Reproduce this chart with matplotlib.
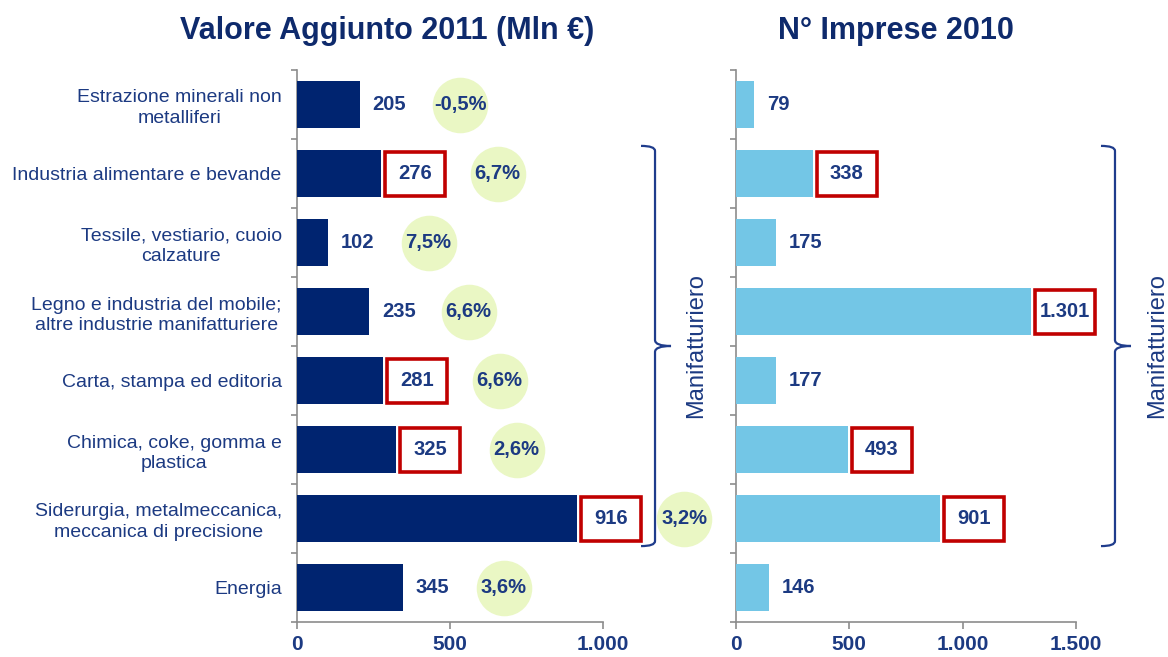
import matplotlib
matplotlib.use("Agg")
import matplotlib.pyplot as plt
from matplotlib.patches import Rectangle, PathPatch
from matplotlib.path import Path

plt.rcParams['font.family'] = ['Liberation Sans', 'DejaVu Sans']

# ---------------- data ----------------
categories = [
    "Estrazione minerali non\nmetalliferi",
    "Industria alimentare e bevande",
    "Tessile, vestiario, cuoio\ncalzature",
    "Legno e industria del mobile;\naltre industrie manifatturiere",
    "Carta, stampa ed editoria",
    "Chimica, coke, gomma e\nplastica",
    "Siderurgia, metalmeccanica,\nmeccanica di precisione",
    "Energia",
]
valore_aggiunto = [205, 276, 102, 235, 281, 325, 916, 345]
var_pct = [-0.5, 6.7, 7.5, 6.6, 6.6, 2.6, 3.2, 3.6]
imprese = [79, 338, 175, 1301, 177, 493, 901, 146]
boxed_va = [False, True, False, False, True, True, True, False]
boxed_imp = [False, True, False, True, False, True, True, False]
xticks_va = [0, 500, 1000]
xticks_imp = [0, 500, 1000, 1500]
title_va = "Valore Aggiunto 2011 (Mln €)"
title_imp = "N° Imprese 2010"
group_label = "Manifatturiero"
group_rows = (1, 6)

# layout (circle centre positions along the left x axis)
circle_x = [534, 656, 430, 561, 662, 718, 1266, 675]

NAVY = '#002470'
LIGHT = '#73C6E6'
TXT = '#1C3A82'
RED = '#C00000'
GREEN = '#EAF7C4'
GRAY = '#8C8C8C'

W, H = 1168, 657
fig = plt.figure(figsize=(W / 100, H / 100), dpi=100)

ax_h = 552 / H
ax_y = 1 - 622 / H
ax1 = fig.add_axes([297 / W, ax_y, 306 / W, ax_h])
ax2 = fig.add_axes([736 / W, ax_y, 340 / W, ax_h])


def fmt_it(v):
    return f"{v:,}".replace(",", ".")


def px2x(ax, px):
    x0, x1 = ax.get_xlim()
    wpx = ax.get_position().width * W
    return px * (x1 - x0) / wpx


def py2y(ax, px):
    y0, y1 = ax.get_ylim()
    hpx = ax.get_position().height * H
    return px * abs(y1 - y0) / hpx


n = len(categories)
rows = list(range(n))


def style_axis(ax, xmax, ticks, labels=True):
    ax.set_xlim(0, xmax)
    ax.set_ylim(n - 0.5, -0.5)
    for s in ('top', 'right'):
        ax.spines[s].set_visible(False)
    for s in ('left', 'bottom'):
        ax.spines[s].set_color(GRAY)
        ax.spines[s].set_linewidth(1.2)
    ax.set_xticks(ticks)
    ax.set_xticklabels([fmt_it(t) for t in ticks], fontsize=15,
                       fontweight='bold', color=TXT)
    ax.tick_params(axis='x', direction='out', length=5, width=1.2,
                   color=GRAY, pad=4)
    ax.set_yticks([r - 0.5 for r in range(n + 1)])
    ax.set_yticklabels([])
    ax.tick_params(axis='y', which='major', direction='out', length=4,
                   width=1.2, color=GRAY)
    if labels:
        ax.set_yticks(rows, minor=True)
        ax.set_yticklabels(categories, minor=True, fontsize=14, color=TXT)
        ax.tick_params(axis='y', which='minor', length=0, pad=11)
        for lab in ax.get_yticklabels(minor=True):
            lab.set_multialignment('center')
            lab.set_linespacing(1.3)


def value_labels(ax, vals, boxed):
    bw = px2x(ax, 60)
    bh = py2y(ax, 44)
    for r, v, b in zip(rows, vals, boxed):
        if b:
            x0 = v + px2x(ax, 4)
            ax.add_patch(Rectangle((x0, r - bh / 2), bw, bh, fc='white',
                                   ec=RED, lw=2.6, clip_on=False, zorder=4))
            ax.text(x0 + bw / 2, r, fmt_it(v), ha='center', va='center',
                    fontsize=14.5, fontweight='bold', color=TXT,
                    zorder=5, clip_on=False)
        else:
            ax.text(v + px2x(ax, 13), r, fmt_it(v), ha='left', va='center',
                    fontsize=14.5, fontweight='bold', color=TXT,
                    zorder=5, clip_on=False)


def brace(ax, xline, label_x):
    top = group_rows[0] - 0.4
    bot = group_rows[1] + 0.4
    mid = (top + bot) / 2
    hk = px2x(ax, 14)
    tp = px2x(ax, 16)
    dy = py2y(ax, 5)
    dm = py2y(ax, 6)
    verts = [
        (xline - hk, top), (xline, top), (xline, top + dy),
        (xline, mid - dm),
        (xline, mid), (xline + tp, mid),
        (xline, mid), (xline, mid + dm),
        (xline, bot - dy),
        (xline, bot), (xline - hk, bot),
    ]
    codes = [Path.MOVETO, Path.CURVE3, Path.CURVE3,
             Path.LINETO,
             Path.CURVE3, Path.CURVE3,
             Path.CURVE3, Path.CURVE3,
             Path.LINETO,
             Path.CURVE3, Path.CURVE3]
    ax.add_patch(PathPatch(Path(verts, codes), fc='none', ec='#1F3C8C',
                           lw=1.6, clip_on=False))
    ax.text(label_x, mid, group_label, rotation=90, ha='center',
            va='center', fontsize=17, color=TXT, clip_on=False)


# ---------------- left panel ----------------
style_axis(ax1, 1000, xticks_va, labels=True)
ax1.barh(rows, valore_aggiunto, height=0.68, color=NAVY, zorder=3)
value_labels(ax1, valore_aggiunto, boxed_va)
ax1.scatter(circle_x, rows, s=1600, color=GREEN, zorder=2, clip_on=False,
            linewidths=0)
for cx, r, p in zip(circle_x, rows, var_pct):
    ax1.text(cx, r, f"{p:.1f}".replace(".", ",") + "%", ha='center',
             va='center', fontsize=14.5, fontweight='bold', color=TXT,
             zorder=3, clip_on=False)
brace(ax1, 1170, 1305)

# ---------------- right panel ----------------
style_axis(ax2, 1500, xticks_imp, labels=False)
ax2.barh(rows, imprese, height=0.68, color=LIGHT, zorder=3)
value_labels(ax2, imprese, boxed_imp)
brace(ax2, 1672, 1857)

# ---------------- titles ----------------
fig.text(387 / W, 1 - 31 / H, title_va, ha='center', va='center',
         fontsize=22, fontweight='bold', color='#0E2A6C')
fig.text(896 / W, 1 - 31 / H, title_imp, ha='center', va='center',
         fontsize=22, fontweight='bold', color='#0E2A6C')

fig.savefig("out.png", dpi=100)
